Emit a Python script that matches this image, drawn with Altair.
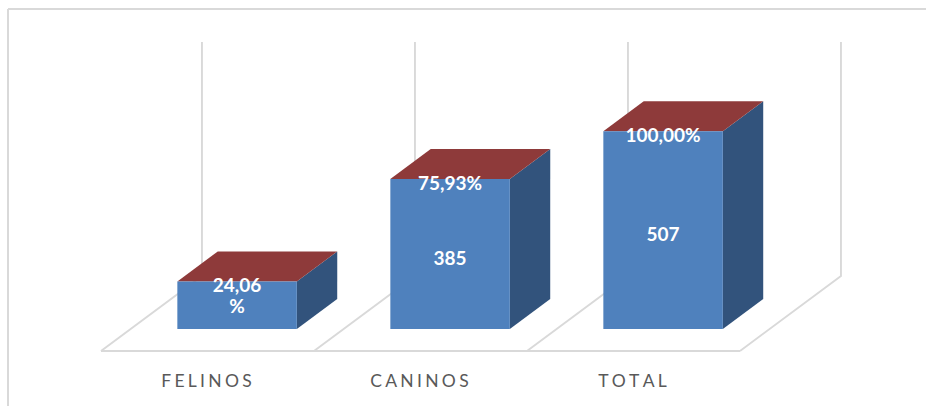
import altair as alt
import pandas as pd

# Chart values
categories = ["FELINOS", "CANINOS", "TOTAL"]
counts = [122, 385, 507]
percent_labels = ["24,06\n%", "75,93%", "100,00%"]
count_labels = ["", "385", "507"]
axis_max = 600

# Oblique projection: how far one unit of depth moves a point on each scale
DEPTH_X = 0.474
DEPTH_Y = 192.3
BAR_LEFT, BAR_RIGHT = 0.2195, 0.7805
BAR_NEAR, BAR_FAR = 0.293, 0.693

FRONT = "#4f81bd"
SIDE = "#32537c"
TOP = "#8e3a3a"
GRID = "#d9d9d9"


def px(u, depth):
    return u + depth * DEPTH_X


def py(v, depth):
    return v + depth * DEPTH_Y


x_scale = alt.Scale(domain=[-0.4742, 3.8732], nice=False, zero=False)
y_scale = alt.Scale(domain=[-141, 900], nice=False, zero=False)
X = lambda f: alt.X(f, type="quantitative", scale=x_scale, axis=None)
Y = lambda f: alt.Y(f, type="quantitative", scale=y_scale, axis=None, stack=None)

# Floor and back-wall guide lines
guide_rows = []
n = len(categories)
guide_rows += [
    {"id": "front", "o": 0, "x": px(0, 0), "y": py(0, 0)},
    {"id": "front", "o": 1, "x": px(n, 0), "y": py(0, 0)},
]
for i in range(n + 1):
    guide_rows += [
        {"id": f"g{i}", "o": 0, "x": px(i, 0), "y": py(0, 0)},
        {"id": f"g{i}", "o": 1, "x": px(i, 1), "y": py(0, 1)},
        {"id": f"g{i}", "o": 2, "x": px(i, 1), "y": py(axis_max, 1)},
    ]
guides = (
    alt.Chart(pd.DataFrame(guide_rows))
    .mark_line(color=GRID, strokeWidth=1.9, interpolate="linear")
    .encode(x=X("x"), y=Y("y"), detail="id:N", order="o:Q")
)

front_rows, side_rows, top_rows, pct_rows, count_rows, cat_rows = [], [], [], [], [], []
for i, (name, v) in enumerate(zip(categories, counts)):
    left, right = i + BAR_LEFT, i + BAR_RIGHT
    front_rows.append(
        {"x": px(left, BAR_NEAR), "x2": px(right, BAR_NEAR),
         "y": py(0, BAR_NEAR), "y2": py(v, BAR_NEAR)}
    )
    for d in (BAR_NEAR, BAR_FAR):
        side_rows.append({"c": name, "x": px(right, d), "y": py(0, d), "y2": py(v, d)})
        top_rows.append({"c": name, "y": py(v, d), "x": px(left, d), "x2": px(right, d)})
    centre = px(i + 0.5, BAR_NEAR)
    pct_rows.append({"x": centre, "y": py(v, BAR_NEAR), "t": percent_labels[i]})
    if count_labels[i]:
        count_rows.append({"x": centre, "y": py(v / 2, BAR_NEAR), "t": count_labels[i]})
    cat_rows.append({"x": i + 0.495, "y": -80, "t": "\u2009\u200a".join(name)})

side = (
    alt.Chart(pd.DataFrame(side_rows))
    .mark_area(color=SIDE, interpolate="linear", opacity=1)
    .encode(x=X("x"), y=Y("y"), y2="y2:Q", detail="c:N")
)
top = (
    alt.Chart(pd.DataFrame(top_rows))
    .mark_area(color=TOP, orient="horizontal", interpolate="linear", opacity=1)
    .encode(y=Y("y"), x=X("x"), x2="x2:Q", detail="c:N")
)
front = (
    alt.Chart(pd.DataFrame(front_rows))
    .mark_rect(color=FRONT, opacity=1)
    .encode(x=X("x"), x2="x2:Q", y=Y("y"), y2="y2:Q")
)

value_font = dict(font="Lato", fontSize=19, fontWeight="bold", color="white")
pct_text = (
    alt.Chart(pd.DataFrame(pct_rows))
    .mark_text(baseline="line-top", lineBreak="\n", lineHeight=21, dy=-5, **value_font)
    .encode(x=X("x"), y=Y("y"), text="t:N")
)
count_text = (
    alt.Chart(pd.DataFrame(count_rows))
    .mark_text(baseline="middle", dy=5, **value_font)
    .encode(x=X("x"), y=Y("y"), text="t:N")
)
cat_text = (
    alt.Chart(pd.DataFrame(cat_rows))
    .mark_text(font="Lato", fontSize=17.5, color="#595959", baseline="middle")
    .encode(x=X("x"), y=Y("y"), text="t:N")
)

# Chart frame: top and left edges only
frame_top = alt.Chart(pd.DataFrame({"a": [0]})).mark_rule(color=GRID, strokeWidth=2).encode(
    x=alt.value(8), x2=alt.value(926), y=alt.value(9)
)
frame_left = alt.Chart(pd.DataFrame({"a": [0]})).mark_rule(color=GRID, strokeWidth=2).encode(
    x=alt.value(8), y=alt.value(9), y2=alt.value(406)
)

chart = (
    alt.layer(frame_top, frame_left, guides, side, top, front, pct_text, count_text, cat_text)
    .properties(
        width=926,
        height=406,
        padding=0,
        autosize=alt.AutoSizeParams(type="none"),
        background="white",
    )
    .configure_view(stroke=None)
)

chart.save("out.html", embed_options={"renderer": "svg", "actions": False})
